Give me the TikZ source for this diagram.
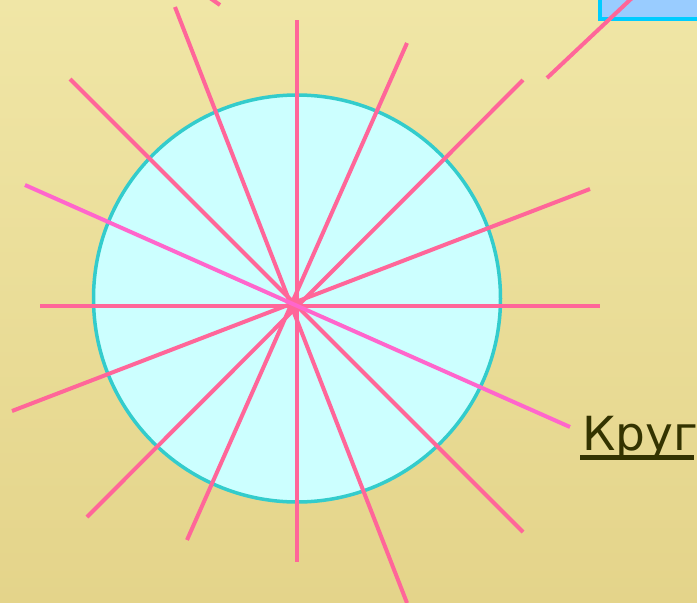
\documentclass[tikz,border=0pt]{standalone}
\usepackage{fontspec}
\newfontfamily\dvfont{DejaVu Sans}
\definecolor{bgtop}{RGB}{240,230,166}
\definecolor{bgbot}{RGB}{228,212,138}
\definecolor{circfill}{RGB}{204,255,255}
\definecolor{circline}{RGB}{51,204,204}
\definecolor{ray}{RGB}{255,102,153}
\definecolor{rayl}{RGB}{255,102,204}
\definecolor{boxfill}{RGB}{153,204,255}
\definecolor{boxline}{RGB}{0,204,255}
\definecolor{txt}{RGB}{51,51,0}
\tikzset{
  raystyle/.style={draw=ray, line width=4pt},
  raylight/.style={draw=rayl, line width=4pt},
}
\begin{document}
\begin{tikzpicture}[x=1pt,y=-1pt]
\shade[top color=bgtop,bottom color=bgbot] (0,0) rectangle (697,603);
\useasboundingbox (0,0) rectangle (697,603);
% blue box top right
\filldraw[fill=boxfill,draw=boxline,line width=3.5pt] (600,-10) rectangle (710,19);
% circle
\filldraw[fill=circfill,draw=circline,line width=3.5pt] (297,298.5) circle (203.5);
% rays
\draw[raystyle] (297,20) -- (297,562);
\draw[raystyle] (40,306) -- (600,306);
\draw[raystyle] (175,7) -- (407,603);
\draw[raystyle] (407,43) -- (187,540);
\draw[raystyle] (70,79) -- (523,532);
\draw[raystyle] (523,80) -- (87,517);
\draw[raystyle] (590,189) -- (12,411);
\draw[raylight] (25,185) -- (570,427);
\draw[raystyle] (547,78) -- (632,-2);
\draw[raystyle] (210,-2) -- (220,5);
% label
\node[anchor=base west,inner sep=0pt,text=txt,font=\dvfont\fontsize{47}{50}\selectfont] (lbl) at (582,450) {Круг};
\fill[txt] (580,455) rectangle (694,460);
\end{tikzpicture}
\end{document}
